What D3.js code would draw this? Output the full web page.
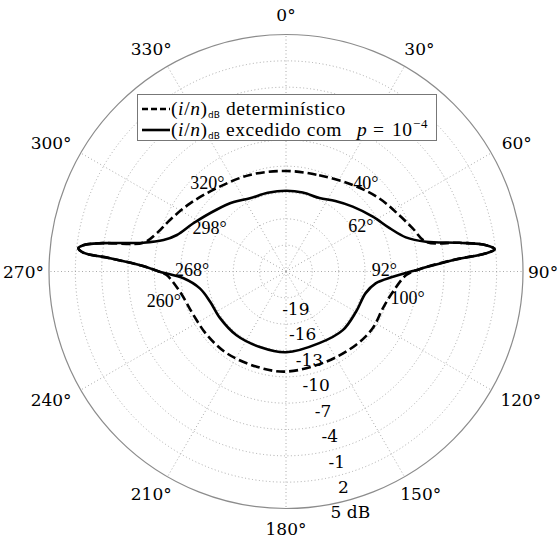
<!DOCTYPE html>
<html>
<head>
<meta charset="utf-8">
<script src="https://cdn.jsdelivr.net/npm/d3@7"></script>
<style>
  body { margin: 0; background: #fff; }
  .serif1 { font-family: "DejaVu Serif", "Liberation Serif", serif; }
  .serif2 { font-family: "Liberation Serif", "Times New Roman", serif; }
</style>
</head>
<body>
<svg id="chart" width="560" height="545"></svg>
<script>
// angles in degrees, clockwise from top (0 = up); levels in dB
const solidTheta = [0, 12, 24.5, 35, 45.8, 57.7, 67.3, 74.1, 78.0, 80.6, 82.5, 83.9, 84.8, 86.1, 89.0,
    92.8, 97.5, 105.2, 119.9, 135.9, 155.1, 180, 199.1, 217.8, 234.7, 248.3, 258.9, 266.2, 269.9,
    272.2, 274.3, 275.3, 276.4, 277.4, 278.8, 281.4, 284.4, 288.5, 297.5, 311.6, 323, 333.8, 347];
const solidDb = [-12.8, -12.8, -12.8, -12.2, -11.4, -10.3, -9.2, -7.8, -5.7, -2.0, 1.0, 1.9, 0.9, -3.0, -6.8,
    -9.8, -11.7, -12.6, -12.8, -12.7, -13.0, -12.8, -12.9, -12.8, -12.8, -12.7, -12.0, -10.3, -7.6,
    -5.7, -1.9, 1.2, 1.8, 1.3, -0.9, -5.4, -7.6, -8.9, -10.1, -11.4, -12.1, -12.7, -12.8];

// deterministic curve; shares the spikes with the exceeded curve
const detTheta = [0, 19.0, 37.6, 51.9, 63.5, 71.2, 78.0, 80.6, 82.5, 83.9, 84.8, 86.1, 89.0,
    91.7, 100.7, 110.8, 123.2, 136.4, 156.1, 180, 197.1, 215.9, 231.3, 244.9, 259.2, 268.3,
    269.9, 272.2, 274.3, 275.3, 276.4, 277.4, 278.8, 281.4, 286.5, 294.1, 305.4, 320.2, 339.5];
const detDb = [-10.55, -10.4, -9.55, -8.5, -7.6, -6.75, -5.7, -2.0, 1.0, 1.9, 0.9, -3.0, -6.8,
    -8.3, -9.6, -10.2, -10.2, -10.45, -10.75, -10.6, -10.65, -10.5, -10.45, -10.35, -9.7, -8.4,
    -7.6, -5.7, -1.9, 1.2, 1.8, 1.3, -0.9, -5.4, -6.65, -7.55, -8.6, -9.65, -10.25];

const angleTicks = [0, 30, 60, 90, 120, 150, 180, 210, 240, 270, 300, 330];
const dbTicks = [-19, -16, -13, -10, -7, -4, -1, 2, 5];

// marked angles written on the plot, anchored in (angle, dB)
const annotText = ['320°', '40°', '298°', '62°', '268°', '92°', '260°', '100°'];
const annotTheta = [318.4, 42.0, 299.5, 58.5, 271.2, 89.4, 256.6, 102.5];
const annotDb = [-8.5, -8.4, -12.0, -12.0, -11.3, -10.8, -7.7, -7.8];

const legendNames = ['determinístico', 'excedido com'];

var svg = d3.select('#chart');
var cx = 286, cy = 271.5, R = 237;
var rad = Math.PI / 180;

var r = d3.scaleLinear().domain([-22, 5]).range([0, R]);

var g = svg.append('g').attr('transform', 'translate(' + cx + ',' + cy + ')');

function drawGrid() {
    g.selectAll('circle.ring')
        .data(dbTicks.slice(0, -1)).enter().append('circle')
        .attr('class', 'ring')
        .attr('r', function (d) { return r(d); })
        .attr('fill', 'none')
        .attr('stroke', '#a0a0a0')
        .attr('stroke-width', 0.9)
        .attr('stroke-dasharray', '1,2.5');

    g.selectAll('line.spoke')
        .data(angleTicks).enter().append('line')
        .attr('class', 'spoke')
        .attr('x1', 0).attr('y1', 0)
        .attr('x2', function (d) { return R * Math.sin(d * rad); })
        .attr('y2', function (d) { return -R * Math.cos(d * rad); })
        .attr('stroke', '#a0a0a0')
        .attr('stroke-width', 0.9)
        .attr('stroke-dasharray', '1,2.5');

    g.append('circle')
        .attr('r', r(5))
        .attr('fill', 'none')
        .attr('stroke', '#8c8c8c')
        .attr('stroke-width', 1.2);
}

function toPoints(thetas, dbs) {
    return thetas.map(function (t, i) { return { theta: t, db: dbs[i] }; });
}

function drawCurves() {
    var line = d3.lineRadial()
        .angle(function (d) { return d.theta * rad; })
        .radius(function (d) { return r(d.db); })
        .curve(d3.curveCatmullRomClosed.alpha(0.5));

    g.append('path')
        .attr('d', line(toPoints(solidTheta, solidDb)))
        .attr('fill', 'none')
        .attr('stroke', '#000')
        .attr('stroke-width', 2.6)
        .attr('stroke-linejoin', 'round');

    g.append('path')
        .attr('d', line(toPoints(detTheta, detDb)))
        .attr('fill', 'none')
        .attr('stroke', '#000')
        .attr('stroke-width', 2.6)
        .attr('stroke-dasharray', '9,4');
}

function drawLabels() {
    // theta labels: pushed sideways by half their width, fixed vertical radius
    g.selectAll('text.theta')
        .data(angleTicks).enter().append('text')
        .attr('class', 'theta serif1')
        .attr('text-anchor', 'middle')
        .attr('dominant-baseline', 'central')
        .attr('font-size', 17)
        .text(function (d) { return d + '°'; })
        .each(function (d) {
            var w = this.getComputedTextLength(),
                s = Math.sin(d * rad), c = Math.cos(d * rad),
                t = R + 5 + Math.abs(s) * w / 2 + Math.abs(c) * 16 + 4 * Math.abs(s * c) * 2;
            d3.select(this).attr('x', t * s).attr('y', -257 * c);
        });

    g.selectAll('text.rtick')
        .data(dbTicks).enter().append('text')
        .attr('class', 'rtick serif1')
        .attr('x', function (d) { return r(d) * Math.sin(15 * rad) + 3; })
        .attr('y', function (d) { return r(d) * Math.cos(15 * rad) + 12; })
        .attr('text-anchor', 'middle')
        .attr('dominant-baseline', 'central')
        .attr('font-size', 17)
        .text(function (d) { return d === 5 ? '5 dB' : String(d); });

    g.selectAll('text.annot')
        .data(annotText).enter().append('text')
        .attr('class', 'annot serif2')
        .attr('x', function (d, i) { return r(annotDb[i]) * Math.sin(annotTheta[i] * rad); })
        .attr('y', function (d, i) { return -r(annotDb[i]) * Math.cos(annotTheta[i] * rad); })
        .attr('text-anchor', 'middle')
        .attr('dominant-baseline', 'central')
        .attr('font-size', 18)
        .text(function (d) { return d; });
}

function drawLegend() {
    var lg = svg.append('g').attr('class', 'legend');
    lg.append('rect')
        .attr('x', 137.5).attr('y', 94.5)
        .attr('width', 299).attr('height', 46)
        .attr('fill', '#fff')
        .attr('stroke', '#777')
        .attr('stroke-width', 1);

    var rows = [109, 130];
    legendNames.forEach(function (name, i) {
        var base = rows[i] + 6;
        lg.append('line')
            .attr('x1', 142).attr('x2', 170)
            .attr('y1', rows[i]).attr('y2', rows[i])
            .attr('stroke', '#000')
            .attr('stroke-width', 2.6)
            .attr('stroke-dasharray', i === 0 ? '6,3' : null);

        var t = lg.append('text')
            .attr('class', 'serif2')
            .attr('y', base)
            .attr('font-size', 19.5)
            .attr('letter-spacing', 0.6);
        t.append('tspan').attr('x', 171).text('(');
        t.append('tspan').attr('font-style', 'italic').text('i');
        t.append('tspan').text('/');
        t.append('tspan').attr('font-style', 'italic').text('n');
        t.append('tspan').text(')');
        t.append('tspan')
            .attr('dx', 0.5)
            .attr('y', base + 3)
            .attr('font-family', 'DejaVu Sans')
            .attr('font-size', 9)
            .attr('letter-spacing', 0)
            .text('dB');
        t.append('tspan').attr('x', 226).attr('y', base).text(name);
        if (i === 1) {
            t.append('tspan').attr('x', 357).attr('font-style', 'italic').text('p');
            t.append('tspan').attr('x', 373).text('=');
            t.append('tspan').attr('x', 392).text('10');
            t.append('tspan')
                .attr('x', 413)
                .attr('y', base - 8)
                .attr('font-size', 13)
                .text('\u22124');
        }
    });
}

drawGrid();
drawCurves();
drawLabels();
drawLegend();
</script>
</body>
</html>
